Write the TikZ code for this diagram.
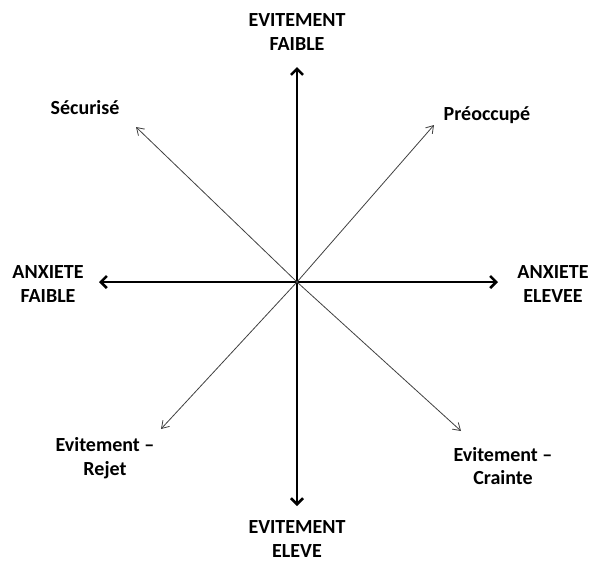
\documentclass[tikz,border=0pt]{standalone}
\usepackage{fontspec}
\setmainfont{Carlito}
\usetikzlibrary{arrows.meta}

\begin{document}
\begin{tikzpicture}[x=1pt, y=-1pt,
    lbl/.style={font=\bfseries\fontsize{20}{23.5}\selectfont, align=center, inner sep=0pt},
    axis/.style={line width=2.6pt, {Straight Barb[length=6pt,width=12pt]}-{Straight Barb[length=6pt,width=12pt]}},
    diag/.style={line width=0.8pt, black!75, -{Straight Barb[length=7pt,width=9pt]}}
  ]
  \useasboundingbox (0,0) rectangle (589,563);

  % axes
  \coordinate (c) at (297,282);
  \coordinate (top) at (297,67);
  \coordinate (bot) at (297,506);
  \coordinate (lft) at (99,282);
  \coordinate (rgt) at (498,282);
  \draw[axis] (top) -- (bot);
  \draw[axis] (lft) -- (rgt);

  % diagonals
  \foreach \name/\x/\y in {nw/136/127, ne/434/125, sw/161/429, se/461/431} {
    \coordinate (\name) at (\x,\y);
    \draw[diag] (c) -- (\name);
  }

  % labels
  \node[lbl] (evfaible) at (297,32) {EVITEMENT\\FAIBLE};
  \node[lbl] (evelve) at (297,539) {EVITEMENT\\ELEVE};
  \node[lbl] (axfaible) at (48,284) {ANXIETE\\FAIBLE};
  \node[lbl] (axelevee) at (553,284) {ANXIETE\\ELEVEE};
  \node[lbl] (secur) at (85,108) {Sécurisé};
  \node[lbl] (preoc) at (487,115) {Préoccupé};
  \node[lbl] (rejet) at (105,458) {Evitement --\\Rejet};
  \node[lbl] (crainte) at (503,466) {Evitement --\\Crainte};
\end{tikzpicture}
\end{document}
